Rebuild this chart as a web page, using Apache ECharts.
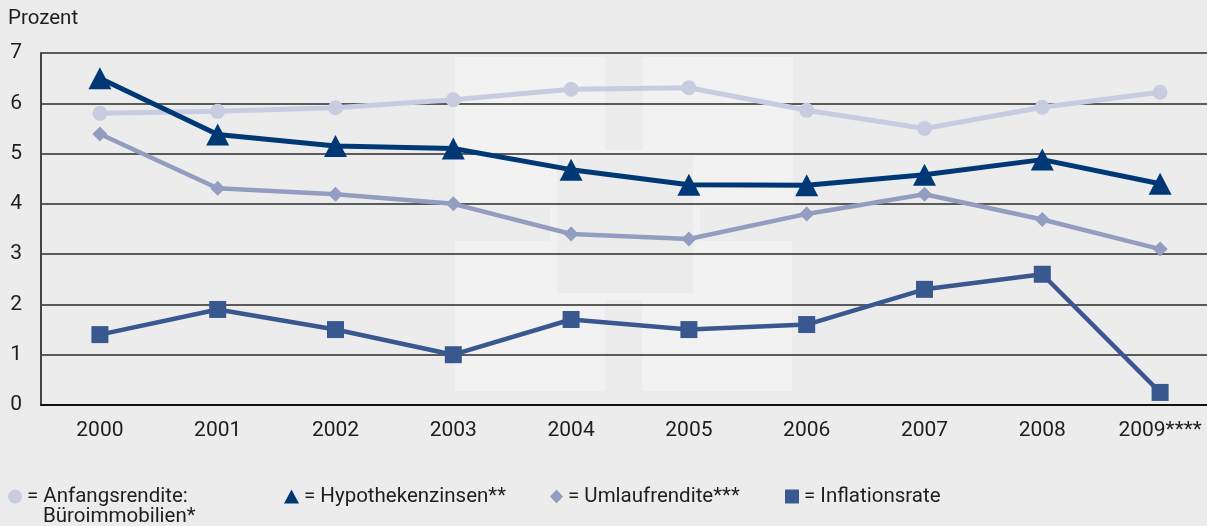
<!DOCTYPE html>
<html>
<head>
<meta charset="utf-8">
<script src="https://cdn.jsdelivr.net/npm/echarts@6/dist/echarts.min.js"></script>
<style>
  html, body { margin: 0; padding: 0; background: #ececec; }
  #chart { width: 1207px; height: 526px; }
</style>
</head>
<body>
<div id="chart"></div>
<script>
// Jahre (x-Achse)
const years = ['2000', '2001', '2002', '2003', '2004', '2005', '2006', '2007', '2008', '2009****'];

// Werte in Prozent
const anfangsrendite = [5.80, 5.84, 5.91, 6.07, 6.28, 6.31, 5.86, 5.50, 5.92, 6.22];
const hypothekenzinsen = [6.50, 5.38, 5.15, 5.10, 4.68, 4.38, 4.37, 4.58, 4.88, 4.40];
const umlaufrendite = [5.39, 4.31, 4.19, 4.00, 3.40, 3.30, 3.80, 4.19, 3.69, 3.10];
const inflationsrate = [1.40, 1.90, 1.50, 1.00, 1.70, 1.50, 1.60, 2.30, 2.60, 0.25];

const yTicks = [0, 1, 2, 3, 4, 5, 6, 7];

const FONT = 'Roboto';
const TEXT = '#1e1e1e';
const AXIS_FS = 21;
const LEG_FS = 20.5;

const names = {
  anf: 'Anfangsrendite: Büroimmobilien*',
  hyp: 'Hypothekenzinsen**',
  uml: 'Umlaufrendite***',
  inf: 'Inflationsrate'
};
const legendText = {
  [names.anf]: '= Anfangsrendite:',
  [names.hyp]: '= Hypothekenzinsen**',
  [names.uml]: '= Umlaufrendite***',
  [names.inf]: '= Inflationsrate'
};

function lineSeries(name, data, color, symbol, size, width) {
  return {
    name: name,
    type: 'line',
    data: data,
    symbol: symbol,
    symbolSize: size,
    showAllSymbol: true,
    lineStyle: { color: color, width: width },
    itemStyle: { color: color, opacity: 1 },
    emphasis: { disabled: true },
    animation: false
  };
}

function legendItem(name, icon, left, w, h) {
  return {
    left: left,
    top: 486,
    itemWidth: w,
    itemHeight: h,
    icon: icon,
    padding: 0,
    selectedMode: false,
    data: [name],
    formatter: n => legendText[n],
    textStyle: { fontFamily: FONT, fontSize: LEG_FS, color: TEXT }
  };
}

// Hintergrundlogo aus hellen Flächen
const wmLight = '#f2f2f2';
const wmBase = '#ececec';
const watermark = [
  [455, 57, 150, 150, wmLight],
  [643, 57, 150, 150, wmLight],
  [455, 241, 150, 150, wmLight],
  [642, 241, 150, 150, wmLight],
  [550, 150, 150, 150, wmLight],
  [557, 156, 136, 137, wmBase]
].map(r => ({
  type: 'rect',
  z: -10,
  silent: true,
  shape: { x: r[0], y: r[1], width: r[2], height: r[3] },
  style: { fill: r[4] }
}));

const chart = echarts.init(document.getElementById('chart'), null, { renderer: 'canvas' });

chart.setOption({
  backgroundColor: '#ececec',
  animation: false,
  title: {
    text: 'Prozent',
    left: 8,
    top: 8,
    padding: 0,
    textStyle: { fontFamily: FONT, fontSize: LEG_FS, fontWeight: 'normal', color: TEXT }
  },
  grid: {
    left: 41, top: 53, width: 1178, height: 352,
    containLabel: false,
    outerBoundsMode: 'none'
  },
  xAxis: {
    type: 'category',
    data: years,
    boundaryGap: true,
    axisLine: { show: true, lineStyle: { color: '#111', width: 2 } },
    axisTick: { show: false },
    axisLabel: { margin: 15, fontFamily: FONT, fontSize: AXIS_FS, color: TEXT, hideOverlap: false },
    splitLine: { show: false }
  },
  yAxis: {
    type: 'value',
    min: yTicks[0],
    max: yTicks[yTicks.length - 1],
    interval: 1,
    axisLine: { show: true, lineStyle: { color: '#444', width: 2 } },
    axisTick: { show: false },
    axisLabel: { margin: 19, fontFamily: FONT, fontSize: AXIS_FS, color: TEXT },
    splitLine: { show: true, lineStyle: { color: '#2a2a2a', width: 1.5 } }
  },
  legend: [
    legendItem(names.anf, 'circle', 8, 14, 14),
    legendItem(names.hyp, 'triangle', 284, 15, 14),
    legendItem(names.uml, 'diamond', 550, 13, 14),
    legendItem(names.inf, 'rect', 785, 14, 14)
  ],
  graphic: watermark.concat([{
    type: 'text',
    left: 43,
    top: 506,
    silent: true,
    style: { text: 'Büroimmobilien*', fontFamily: FONT, fontSize: LEG_FS, fill: TEXT }
  }]),
  series: [
    lineSeries(names.anf, anfangsrendite, '#c8cce0', 'circle', 15, 5),
    lineSeries(names.uml, umlaufrendite, '#939dc0', 'diamond', 15, 4.5),
    lineSeries(names.inf, inflationsrate, '#3a5890', 'rect', 17, 4.5),
    lineSeries(names.hyp, hypothekenzinsen, '#003876', 'triangle', [23, 22], 5)
  ]
});
</script>
</body>
</html>
